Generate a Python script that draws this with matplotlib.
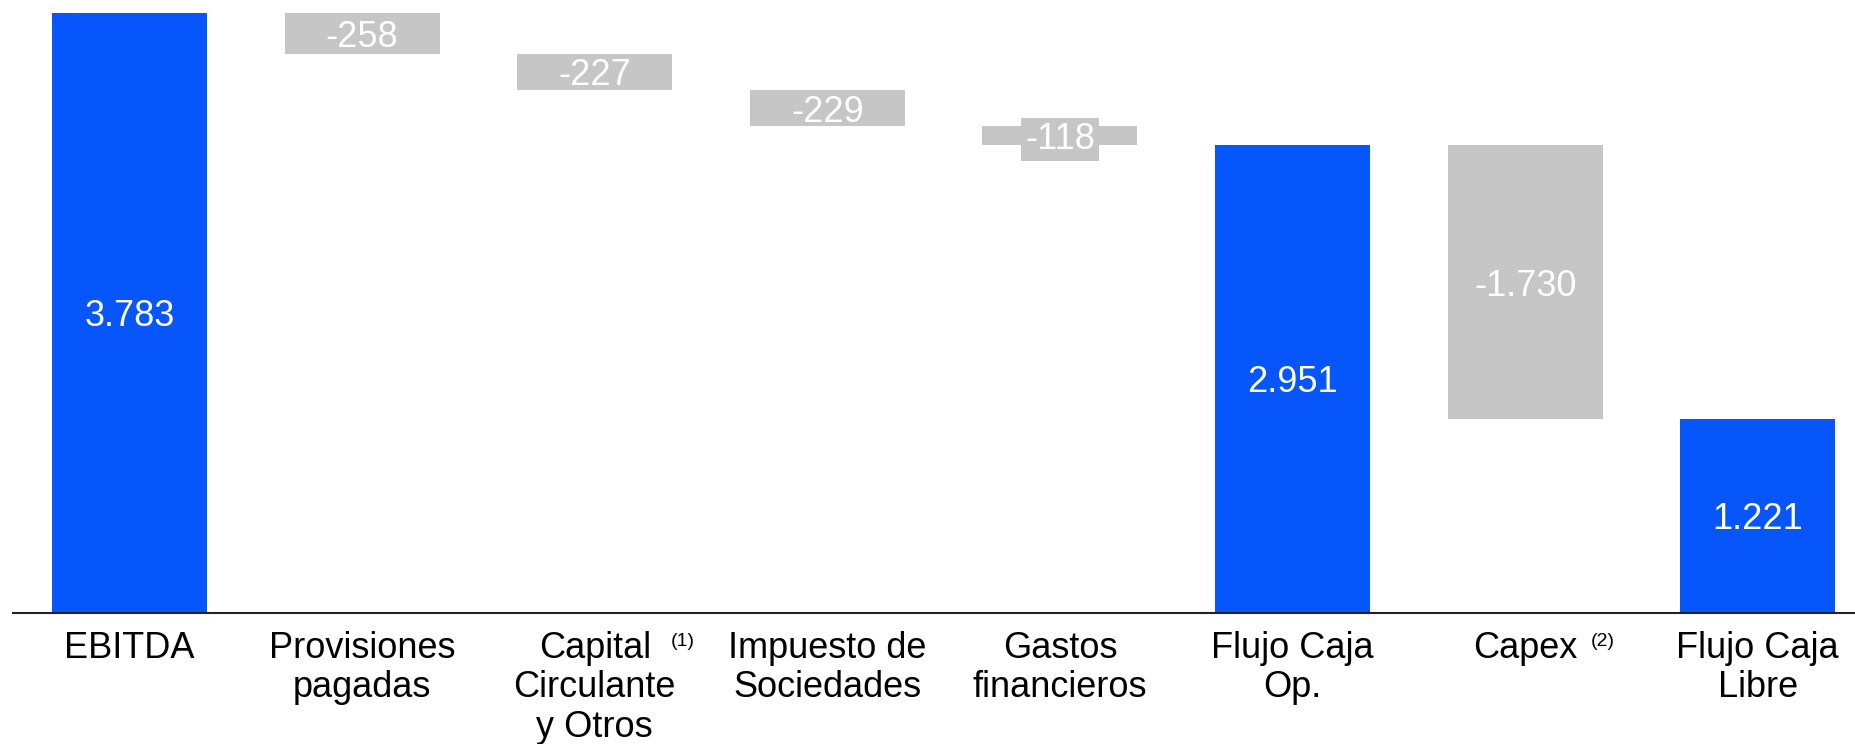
import matplotlib
matplotlib.use("Agg")
import matplotlib.pyplot as plt
import numpy as np

plt.rcParams['font.family'] = ['Liberation Sans', 'DejaVu Sans']

# waterfall data (millones)
categories = ["EBITDA", "Provisiones\npagadas", "Capital\nCirculante\ny Otros",
              "Impuesto de\nSociedades", "Gastos\nfinancieros", "Flujo Caja\nOp.",
              "Capex", "Flujo Caja\nLibre"]
values = [3783, -258, -227, -229, -118, 2951, -1730, 1221]
is_total = [True, False, False, False, False, True, False, True]
notes = {2: "(1)", 6: "(2)"}

blue = "#0656FB"
grey = "#C6C6C6"


def fmt(v):
    return f"{v:,}".replace(",", ".")


fig = plt.figure(figsize=(18.55, 7.44), dpi=100)
ax = fig.add_axes([13 / 1855, 1 - 612.7 / 744, 1 - 13 / 1855, (612.7 - 13) / 744])

x = np.arange(len(values))
running = 0
bottoms, heights, colors = [], [], []
for v, tot in zip(values, is_total):
    if tot:
        bottoms.append(0)
        heights.append(v)
        colors.append(blue)
        running = v
    else:
        bottoms.append(running + v)
        heights.append(-v)
        colors.append(grey)
        running += v

ax.bar(x, heights, bottom=bottoms, width=0.666, color=colors, linewidth=0)

for i, (b, h, v, tot) in enumerate(zip(bottoms, heights, values, is_total)):
    kw = dict(ha="center", va="center_baseline", color="white", fontsize=26)
    # small bars: label sticks out of the bar, gets its own grey box
    if not tot and abs(v) < 200:
        kw["bbox"] = dict(boxstyle="square,pad=0.1", fc=grey, ec="none")
    ax.text(i, b + h / 2, fmt(v), **kw)

ax.set_xlim(-0.501, 7.418)
ax.set_ylim(0, 3783)
ax.set_xticks(x)
ax.set_xticklabels(categories, fontsize=26, linespacing=1.17)
ax.tick_params(axis="x", length=0, pad=13)
ax.set_yticks([])
for s in ["top", "right", "left"]:
    ax.spines[s].set_visible(False)
ax.spines["bottom"].set_color("#222222")
ax.spines["bottom"].set_linewidth(1.5)

for i, n in notes.items():
    dx = 55 if i == 2 else 47
    ax.annotate(n, xy=(i, 0), xycoords="data", xytext=(dx, -21),
                textcoords="offset points", ha="left", va="center",
                fontsize=14, annotation_clip=False)

fig.savefig("out.png", dpi=100)
